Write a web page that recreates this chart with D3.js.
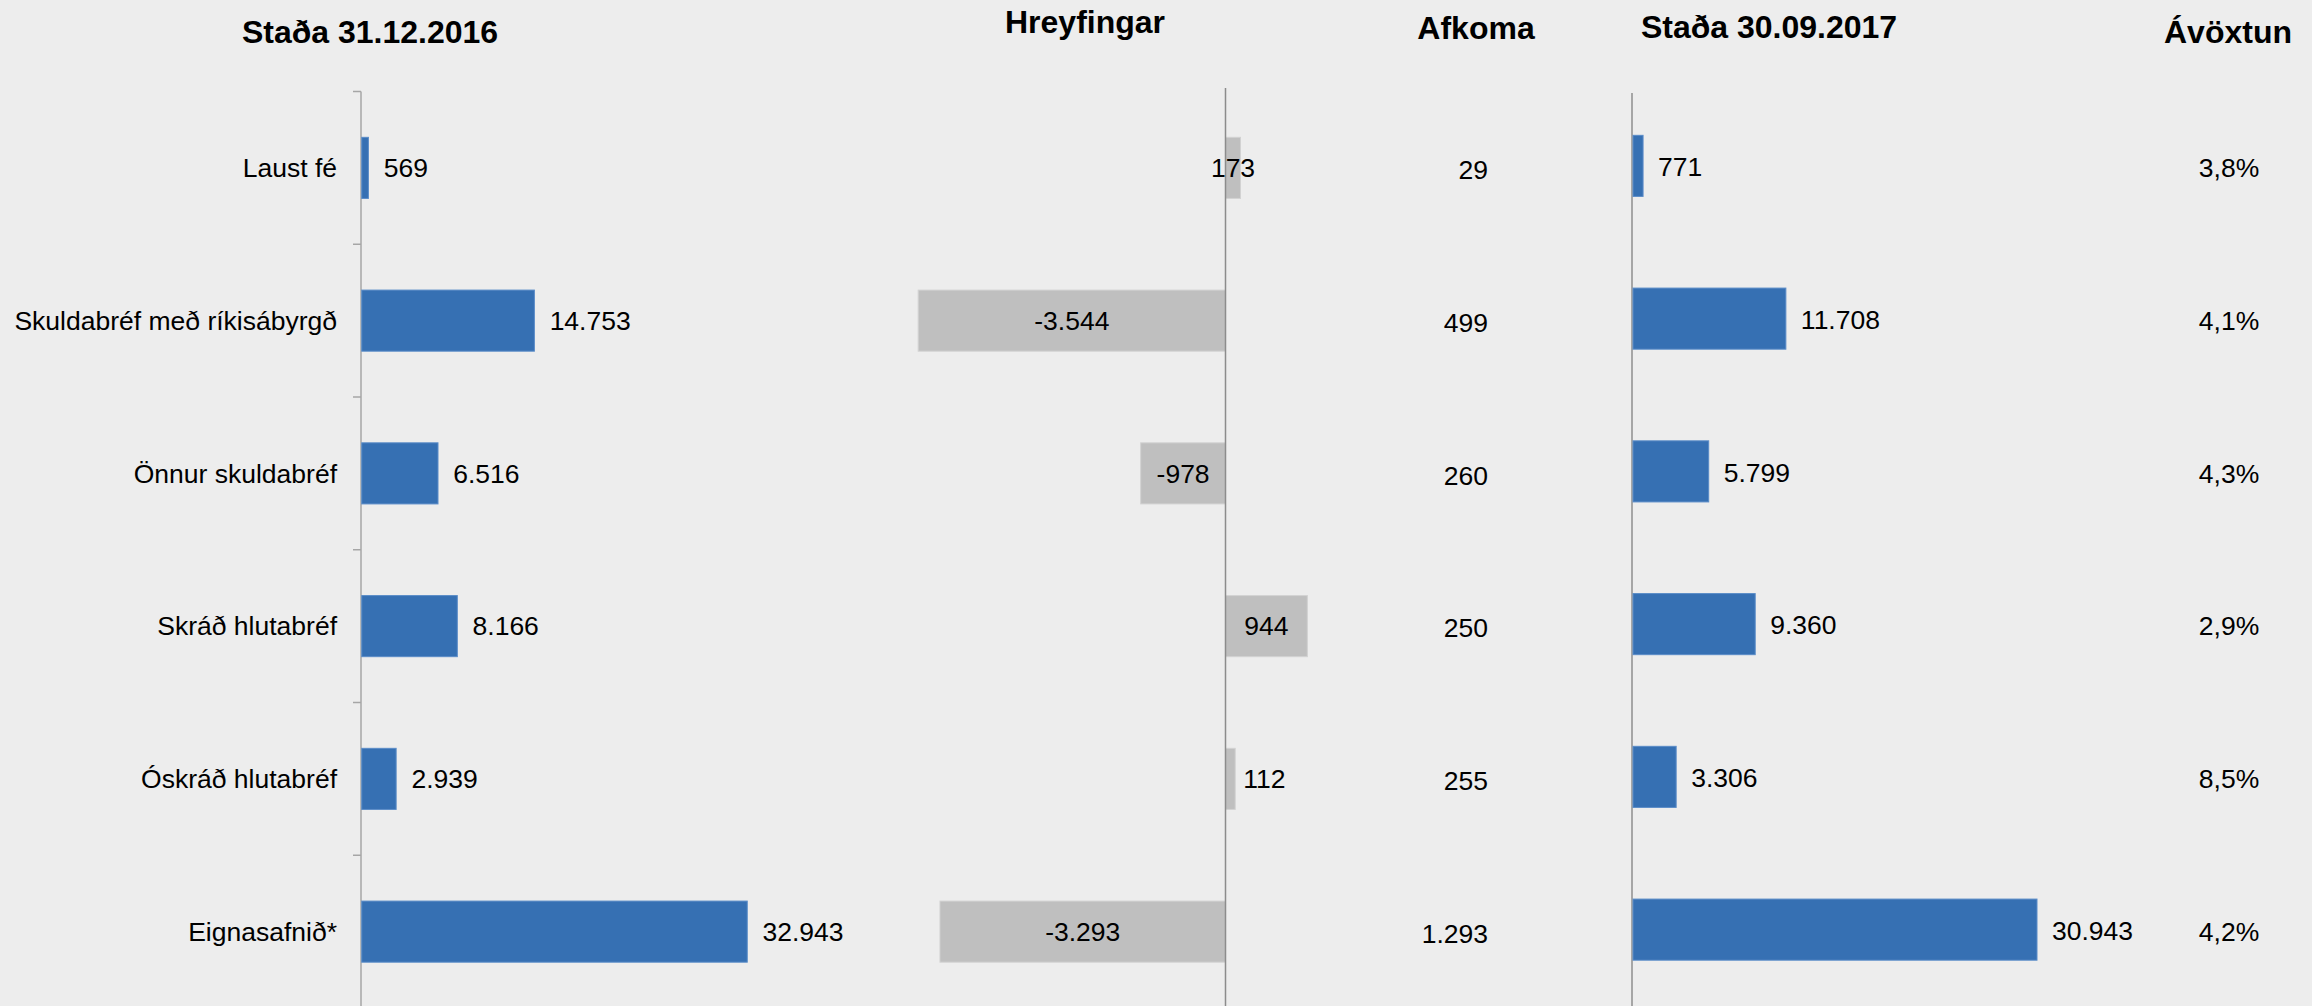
<!DOCTYPE html>
<html>
<head>
<meta charset="utf-8">
<script src="https://cdn.jsdelivr.net/npm/d3@7/dist/d3.min.js"></script>
<style>
  html, body { margin: 0; padding: 0; background: #ededed; }
  svg { display: block; }
  text { font-family: "Liberation Sans", Arial, sans-serif; fill: #000; }
</style>
</head>
<body>
<svg id="chart" width="2312" height="1006"></svg>
<script>
// ---- data ----
const categories = ["Laust fé", "Skuldabréf með ríkisábyrgð", "Önnur skuldabréf", "Skráð hlutabréf", "Óskráð hlutabréf", "Eignasafnið*"];
const stada2016 = [569, 14753, 6516, 8166, 2939, 32943];
const hreyfingar = [173, -3544, -978, 944, 112, -3293];
const hreyfingarLabelOutside = [false, false, false, false, true, false];
const afkoma = [29, 499, 260, 250, 255, 1293];
const stada2017 = [771, 11708, 5799, 9360, 3306, 30943];
const avoxtun = [0.038, 0.041, 0.043, 0.029, 0.085, 0.042];
const titles = ["Staða 31.12.2016", "Hreyfingar", "Afkoma", "Staða 30.09.2017", "Ávöxtun"];

// ---- setup ----
const W = 2312, H = 1006;
const svg = d3.select("#chart");
const loc = d3.formatLocale({decimal: ",", thousands: ".", grouping: [3], currency: ["", " kr"], minus: "-"});
const fmtInt = loc.format(",d");
const fmtPct = loc.format(".1%");

const BLUE = "#3670b3", BLUE_EDGE = "#5a8cc8";
const GRAY = "#bfbfbf", GRAY_EDGE = "#d2d2d2";
const AXIS = "#a6a6a6";
const FS = 26.5;

const y = d3.scaleBand().domain(categories).range([91.5, 91.5 + 6 * 152.75])
  .paddingInner(0.6).paddingOuter(0.3);
const yc = c => y(c) + y.bandwidth() / 2;
const bandTop = c => y(c) - y.step() * 0.3;

// panel x scales
const x1 = d3.scaleLinear().domain([0, 32943]).range([361, 746.5]);
const x2 = d3.scaleLinear().domain([-3544, 0]).range([1225.5 - 307.3, 1225.5]);
const x4 = d3.scaleLinear().domain([0, 30943]).range([1632, 2036]);

// ---- titles ----
const titlePos = [[370, 43], [1085, 33], [1476, 39], [1769, 38], [2228, 43]];
svg.selectAll("text.title").data(titles).join("text")
  .attr("class", "title")
  .attr("x", (d, i) => titlePos[i][0])
  .attr("y", (d, i) => titlePos[i][1])
  .attr("text-anchor", "middle")
  .attr("font-size", 32).attr("font-weight", "bold")
  .text(d => d);

// ---- panel 1 ----
const p1 = svg.append("g");
p1.append("line").attr("x1", x1(0)).attr("x2", x1(0)).attr("y1", 91.5).attr("y2", H)
  .attr("stroke", AXIS).attr("stroke-width", 1.5);
p1.selectAll("line.tick").data(categories).join("line").attr("class", "tick")
  .attr("x1", x1(0) - 8).attr("x2", x1(0))
  .attr("y1", d => bandTop(d)).attr("y2", d => bandTop(d))
  .attr("stroke", AXIS).attr("stroke-width", 1.5);
p1.selectAll("text.cat").data(categories).join("text").attr("class", "cat")
  .attr("x", 337).attr("y", d => yc(d)).attr("dy", "0.35em")
  .attr("text-anchor", "end").attr("font-size", FS).text(d => d);
p1.selectAll("rect").data(stada2016).join("rect")
  .attr("x", x1(0) + 0.75).attr("y", (d, i) => y(categories[i]))
  .attr("width", d => x1(d) - x1(0)).attr("height", y.bandwidth())
  .attr("fill", BLUE).attr("stroke", BLUE_EDGE).attr("stroke-width", 1);
p1.selectAll("text.val").data(stada2016).join("text").attr("class", "val")
  .attr("x", d => x1(d) + 16).attr("y", (d, i) => yc(categories[i])).attr("dy", "0.35em")
  .attr("font-size", FS).text(d => fmtInt(d));

// ---- panel 2 ----
const p2 = svg.append("g");
p2.selectAll("rect").data(hreyfingar).join("rect")
  .attr("x", d => Math.min(x2(d), x2(0))).attr("y", (d, i) => y(categories[i]))
  .attr("width", d => Math.abs(x2(d) - x2(0))).attr("height", y.bandwidth())
  .attr("fill", GRAY).attr("stroke", GRAY_EDGE).attr("stroke-width", 1);
p2.append("line").attr("x1", x2(0)).attr("x2", x2(0)).attr("y1", 88).attr("y2", H)
  .attr("stroke", "#8c8c8c").attr("stroke-width", 1.5);
p2.selectAll("text.val").data(hreyfingar).join("text").attr("class", "val")
  .attr("x", (d, i) => hreyfingarLabelOutside[i] ? x2(d) + 8 : (x2(d) + x2(0)) / 2)
  .attr("text-anchor", (d, i) => hreyfingarLabelOutside[i] ? "start" : "middle")
  .attr("y", (d, i) => yc(categories[i])).attr("dy", "0.35em")
  .attr("font-size", FS).text(d => fmtInt(d));

// ---- panel 3 (Afkoma) ----
svg.append("g").selectAll("text").data(afkoma).join("text")
  .attr("x", 1488).attr("y", (d, i) => yc(categories[i]) + 2).attr("dy", "0.35em")
  .attr("text-anchor", "end").attr("font-size", FS).text(d => fmtInt(d));

// ---- panel 4 ----
const p4 = svg.append("g");
p4.append("line").attr("x1", x4(0)).attr("x2", x4(0)).attr("y1", 93).attr("y2", H)
  .attr("stroke", AXIS).attr("stroke-width", 2);
p4.selectAll("rect").data(stada2017).join("rect")
  .attr("x", x4(0) + 1).attr("y", (d, i) => y(categories[i]) - 2)
  .attr("width", d => x4(d) - x4(0)).attr("height", y.bandwidth())
  .attr("fill", BLUE).attr("stroke", BLUE_EDGE).attr("stroke-width", 1);
p4.selectAll("text.val").data(stada2017).join("text").attr("class", "val")
  .attr("x", d => x4(d) + 16).attr("y", (d, i) => yc(categories[i]) - 1).attr("dy", "0.35em")
  .attr("font-size", FS).text(d => fmtInt(d));

// ---- panel 5 (Ávöxtun) ----
svg.append("g").selectAll("text").data(avoxtun).join("text")
  .attr("x", 2229).attr("y", (d, i) => yc(categories[i])).attr("dy", "0.35em")
  .attr("text-anchor", "middle").attr("font-size", FS).text(d => fmtPct(d));
</script>
</body>
</html>
